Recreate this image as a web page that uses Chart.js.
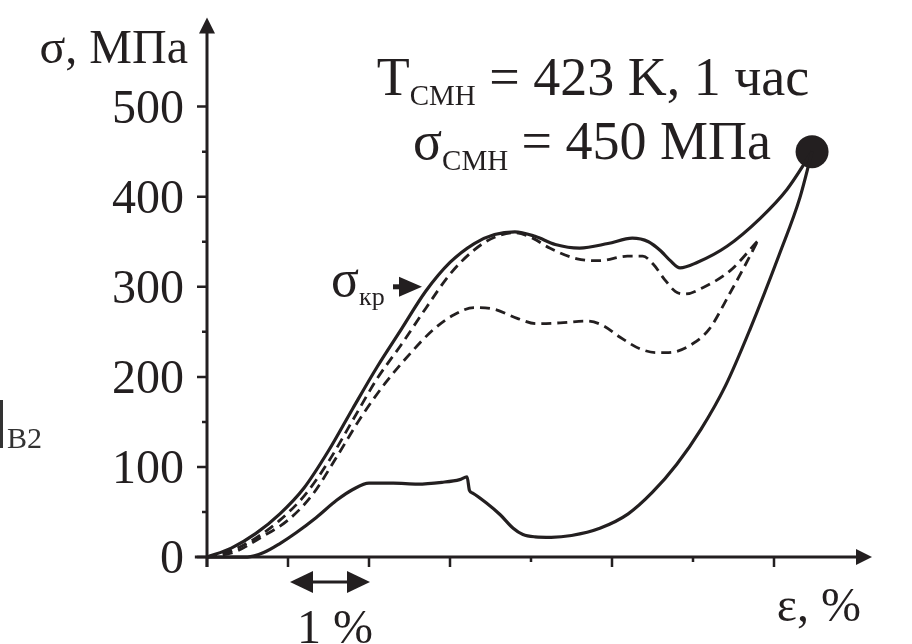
<!DOCTYPE html>
<html lang="ru">
<head>
<meta charset="utf-8">
<title>σ–ε</title>
<script src="https://cdn.jsdelivr.net/npm/chart.js@4.4.1/dist/chart.umd.min.js"></script>
<style>
  html, body { margin: 0; padding: 0; background: #fff; }
  canvas { display: block; }
</style>
</head>
<body>
<canvas id="chart" width="912" height="644"></canvas>
<script>
// деформация, % / напряжение, МПа
const loadStrain = [0, 0.3, 0.6, 0.9, 1.2, 1.5, 1.8, 2.1, 2.4, 2.7, 3.0, 3.3, 3.55, 3.8, 4.05, 4.3, 4.6, 4.95, 5.25, 5.45, 5.6, 5.72, 5.84, 6.05, 6.42, 6.83, 7.16, 7.47];
const loadStress = [0, 10, 26, 48, 77, 118, 165, 211, 253, 295, 327, 348, 358, 361, 356, 347, 343, 348, 354, 350, 340, 329, 321, 327, 345, 376, 408, 450];

const lowStrain = [0, 0.5, 0.7, 0.9, 1.1, 1.35, 1.6, 1.8, 2.0, 2.3, 2.6, 2.9, 3.12, 3.21, 3.24, 3.28, 3.45, 3.62, 3.78, 3.9, 4.05, 4.25, 4.5, 4.85, 5.2, 5.5, 5.8, 6.1, 6.4, 6.7, 7.07, 7.32, 7.47];
const lowStress = [0, 0, 5, 15, 27, 44, 63, 75, 82, 82, 81, 83, 86, 89, 74, 71, 60, 47, 32, 25, 22.5, 22, 24, 32, 48, 72, 103, 142, 190, 252, 337, 399, 450];

const dash1Strain = [0, 0.3, 0.6, 0.9, 1.2, 1.5, 1.8, 2.1, 2.4, 2.7, 3.0, 3.3, 3.55, 3.8, 4.02, 4.23, 4.57, 4.85, 5.19, 5.38, 5.51, 5.65, 5.78, 5.9, 6.12, 6.46, 6.80];
const dash1Stress = [0, 7, 21, 41, 68, 106, 152, 198, 236, 276, 314, 341, 355, 360, 354, 343, 331, 329, 334, 334, 325, 308, 295, 292, 299, 318, 351];

const dash2Strain = [0, 0.35, 0.65, 1.0, 1.3, 1.6, 1.9, 2.2, 2.5, 2.8, 3.05, 3.3, 3.55, 3.83, 4.07, 4.36, 4.69, 4.89, 5.10, 5.35, 5.55, 5.70, 6.0, 6.2, 6.45, 6.65, 6.80];
const dash2Stress = [0, 6, 21, 41, 69, 111, 155, 193, 225, 253, 269, 277, 275, 265, 259, 260, 262, 257, 244, 231, 227, 227, 237, 253, 292, 325, 351];

const endStrain = [7.47];
const endStress = [450];

const yTicks = [0, 100, 200, 300, 400, 500];
const yMinorTicks = [50, 150, 250, 350, 450];
const xTicks = [0, 1, 2, 3, 5, 7];
const xShortTicks = [4, 6];
const sigmaCr = 300;

const INK = '#231f20';
const SERIF = '"Liberation Serif", "Times New Roman", serif';

function toPoints(xs, ys) {
    return xs.map((x, i) => ({ x: x, y: ys[i] }));
}

function font(size) {
    return size + 'px ' + SERIF;
}

// текст с нижним индексом: [{text, size, dy}]
function drawParts(ctx, parts, x, y, align) {
    let total = 0;
    parts.forEach(p => {
        ctx.font = font(p.size);
        p.w = ctx.measureText(p.text).width;
        total += p.w;
    });
    let cx = x;
    if (align === 'center') cx = x - total / 2;
    if (align === 'right') cx = x - total;
    ctx.textAlign = 'left';
    ctx.textBaseline = 'alphabetic';
    parts.forEach(p => {
        ctx.font = font(p.size);
        ctx.fillText(p.text, cx, y + (p.dy || 0));
        cx += p.w;
    });
}

function triangle(ctx, a, b, c) {
    ctx.beginPath();
    ctx.moveTo(a[0], a[1]);
    ctx.lineTo(b[0], b[1]);
    ctx.lineTo(c[0], c[1]);
    ctx.closePath();
    ctx.fill();
}

const axesPlugin = {
    id: 'axesPlugin',
    beforeDatasetsDraw(chart) {
        const ctx = chart.ctx;
        const xs = chart.scales.x;
        const ys = chart.scales.y;
        const x0 = xs.getPixelForValue(0);
        const y0 = ys.getPixelForValue(0);
        const xTip = xs.getPixelForValue(8.21);
        const yTip = ys.getPixelForValue(599);

        ctx.save();
        ctx.strokeStyle = INK;
        ctx.fillStyle = INK;
        ctx.lineWidth = 3;
        ctx.lineCap = 'butt';

        ctx.beginPath();
        ctx.moveTo(xs.getPixelForValue(-0.15), y0);
        ctx.lineTo(xTip - 14, y0);
        ctx.moveTo(x0, ys.getPixelForValue(-11));
        ctx.lineTo(x0, yTip + 14);
        ctx.stroke();

        triangle(ctx, [xTip, y0], [xTip - 16, y0 - 8], [xTip - 16, y0 + 8]);
        triangle(ctx, [x0, yTip], [x0 - 8, yTip + 16], [x0 + 8, yTip + 16]);

        ctx.lineWidth = 2.5;
        ctx.beginPath();
        yTicks.forEach(v => {
            const py = ys.getPixelForValue(v);
            ctx.moveTo(x0 - 10, py);
            ctx.lineTo(x0, py);
        });
        yMinorTicks.forEach(v => {
            const py = ys.getPixelForValue(v);
            ctx.moveTo(x0 - 5, py);
            ctx.lineTo(x0, py);
        });
        xTicks.forEach(v => {
            const px = xs.getPixelForValue(v);
            ctx.moveTo(px, y0);
            ctx.lineTo(px, y0 + 10);
        });
        xShortTicks.forEach(v => {
            const px = xs.getPixelForValue(v);
            ctx.moveTo(px, y0);
            ctx.lineTo(px, y0 + 5);
        });
        ctx.stroke();
        ctx.restore();
    },
    afterDraw(chart) {
        const ctx = chart.ctx;
        const xs = chart.scales.x;
        const ys = chart.scales.y;
        ctx.save();
        ctx.fillStyle = INK;
        ctx.strokeStyle = INK;

        // подписи оси Y
        ctx.font = font(48);
        ctx.textAlign = 'right';
        ctx.textBaseline = 'alphabetic';
        yTicks.forEach(v => {
            ctx.fillText(String(v), 184, ys.getPixelForValue(v) + 16);
        });

        drawParts(ctx, [{ text: 'σ, МПа', size: 48 }], 188, 63, 'right');
        drawParts(ctx, [{ text: 'ε, %', size: 48 }], 861, 621, 'right');

        // условия
        drawParts(ctx, [
            { text: 'T', size: 54 },
            { text: 'СМН', size: 29, dy: 10 },
            { text: ' = 423 K, 1 час', size: 54 }
        ], 593, 95, 'center');
        drawParts(ctx, [
            { text: 'σ', size: 54 },
            { text: 'СМН', size: 29, dy: 11 },
            { text: ' = 450 МПа', size: 54 }
        ], 592, 159, 'center');

        // σкр со стрелкой
        const crY = ys.getPixelForValue(sigmaCr);
        drawParts(ctx, [
            { text: 'σ', size: 52 },
            { text: 'кр', size: 26, dy: 9 }
        ], 331, crY + 9, 'left');
        ctx.lineWidth = 5;
        ctx.beginPath();
        ctx.moveTo(393, crY);
        ctx.lineTo(402, crY);
        ctx.stroke();
        triangle(ctx, [422, crY], [399, crY - 10], [399, crY + 10]);

        // масштаб 1 %
        const a = xs.getPixelForValue(1) + 2;
        const b = xs.getPixelForValue(2) + 1;
        const ay = 582;
        ctx.lineWidth = 3;
        ctx.beginPath();
        ctx.moveTo(a + 15, ay);
        ctx.lineTo(b - 15, ay);
        ctx.stroke();
        triangle(ctx, [a, ay], [a + 23, ay - 11], [a + 23, ay + 11]);
        triangle(ctx, [b, ay], [b - 23, ay - 11], [b - 23, ay + 11]);
        drawParts(ctx, [{ text: '1 %', size: 48 }], 335, 643, 'center');

        // обрезок соседнего рисунка
        ctx.fillStyle = '#333';
        ctx.fillRect(0, 400, 3, 48);
        drawParts(ctx, [{ text: 'B2', size: 30 }], 7, 448, 'left');

        ctx.restore();
    }
};

function lineSet(xs, ys, dashed) {
    return {
        data: toPoints(xs, ys),
        borderColor: INK,
        borderWidth: dashed ? 2.8 : 3.2,
        borderDash: dashed ? [10, 6] : [],
        pointRadius: 0,
        fill: false,
        cubicInterpolationMode: 'monotone',
        showLine: true
    };
}

const ctx = document.getElementById('chart').getContext('2d');
const chart = new Chart(ctx, {
    type: 'scatter',
    data: {
        datasets: [
            lineSet(dash2Strain, dash2Stress, true),
            lineSet(dash1Strain, dash1Stress, true),
            lineSet(lowStrain, lowStress, false),
            lineSet(loadStrain, loadStress, false),
            {
                data: toPoints(endStrain, endStress),
                backgroundColor: INK,
                borderWidth: 0,
                pointRadius: 16.5,
                pointHoverRadius: 16.5,
                showLine: false
            }
        ]
    },
    options: {
        responsive: false,
        animation: false,
        events: [],
        layout: {
            padding: { left: 190.8, right: 24.6, top: 15.2, bottom: 41.85 }
        },
        plugins: {
            legend: { display: false },
            tooltip: { enabled: false }
        },
        scales: {
            x: { type: 'linear', min: -0.2, max: 8.4, display: false },
            y: { type: 'linear', min: -50, max: 600, display: false }
        }
    },
    plugins: [axesPlugin]
});
</script>
</body>
</html>
